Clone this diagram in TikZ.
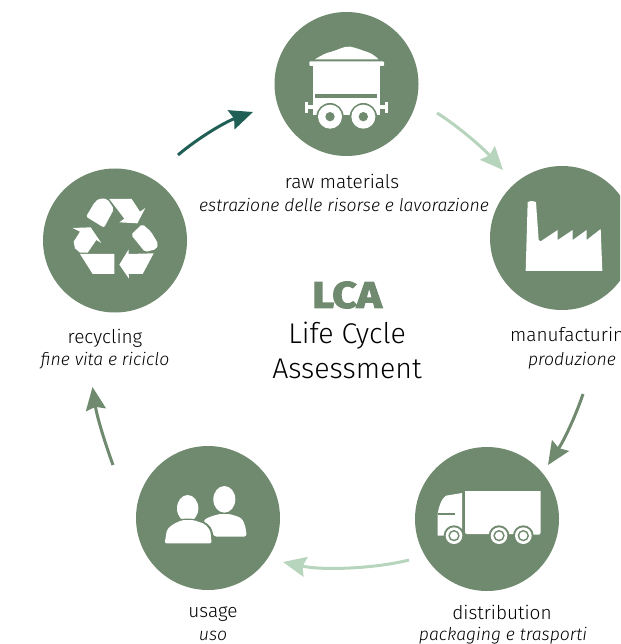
\documentclass[tikz,border=0pt]{standalone}
\usepackage{fontspec}
\setmainfont{Fira Sans Light}[ItalicFont={Fira Sans Light Italic}]
\newfontfamily\heavyfont{Fira Sans}[UprightFont={* Bold},FakeBold=3]
\usetikzlibrary{arrows.meta}
\definecolor{sage}{HTML}{6F8A6E}
\definecolor{paleg}{HTML}{B7D4BC}
\definecolor{darkteal}{HTML}{1F5F55}
\tikzset{
  stage/.style={circle,fill=sage,minimum size=144pt,inner sep=0pt},
  lab/.style={font=\fontsize{19}{19}\selectfont,inner sep=0pt,text=black},
  labit/.style={font=\fontsize{17.6}{18}\selectfont\itshape,inner sep=0pt,text=black},
  flow/.style={line width=3pt,-{Stealth[length=23pt,width=20pt,inset=3pt]}},
  ico/.style={fill=white,draw=none},
  px/.style={x=0.33333pt,y=-0.33333pt}
}
\begin{document}
\begin{tikzpicture}[x=1pt,y=-1pt]
\useasboundingbox (0,0) rectangle (620,644);
\clip (0,0) rectangle (620,644);
\node[stage] (raw) at (346.5,84) {};
\node[stage] (man) at (562,238) {};
\node[stage] (dis) at (487,519) {};
\node[stage] (usa) at (208,518) {};
\node[stage] (rec) at (115,240.5) {};
% arrows
\coordinate (a1s) at (178,155); \coordinate (a1e) at (253,112);
\coordinate (a2s) at (437,113); \coordinate (a2e) at (503,170);
\coordinate (a3s) at (583,394); \coordinate (a3e) at (548,465);
\coordinate (a4s) at (409,560); \coordinate (a4e) at (283,562);
\coordinate (a5s) at (113,465); \coordinate (a5e) at (92.5,387);
\draw[flow,darkteal] (a1s) .. controls (198,138) and (225,122) .. (a1e);
\draw[flow,paleg] (a2s) .. controls (455,124) and (481,146) .. (a2e);
\draw[flow,sage] (a3s) .. controls (577,412) and (566,437) .. (a3e);
\draw[flow,paleg] (a4s) .. controls (378,568) and (325,571) .. (a4e);
\draw[flow,sage] (a5s) .. controls (105,443) and (97,417) .. (a5e);
% wagon
\begin{scope}[shift={(260pt,0pt)},px]
\fill[ico] (165,178) .. controls (185,165) and (200,158) .. (215,155) .. controls (235,150) and (250,138) .. (270,140) .. controls (290,143) and (310,153) .. (325,157) .. controls (340,163) and (350,172) .. (355,178) -- cycle;
\fill[ico,rounded corners=1pt] (148,184) rectangle (372,198);
\fill[ico] (160,198) rectangle (360,345);
\fill[sage] (165,282) rectangle (350,295);
\fill[ico] (136,306) rectangle (144,338);
\fill[ico] (144,316) rectangle (170,328);
\fill[ico] (376,306) rectangle (384,338);
\fill[ico] (350,316) rectangle (376,328);
\fill[sage] (210,350) circle (41); \fill[sage] (310,350) circle (41);
\fill[ico] (210,350) circle (36); \fill[ico] (310,350) circle (36);
\fill[sage] (210,350) circle (14); \fill[sage] (310,350) circle (14);
\end{scope}
% recycling
\begin{scope}[shift={(30pt,-160pt)},px]
\fill[ico,rounded corners=2pt] (168,170) -- (195,125) -- (210,115) -- (232,117) -- (252,147) -- (222,203) -- cycle;
\fill[ico] (238,117) -- (305,117) -- (330,155) -- (346,144) -- (322,190) -- (268,187) -- (283,176) -- cycle;
\fill[ico] (128,204) -- (182,202) -- (214,249) -- (199,240) -- (173,278) -- (150,278) -- (135,265) -- (131,245) -- (150,215) -- cycle;
\fill[ico,rounded corners=2pt] (303,224) -- (337,192) -- (363,215) -- (385,252) -- (378,268) -- (345,276) -- cycle;
\fill[ico] (150,282) -- (253,282) -- (253,342) -- (188,342) -- cycle;
\fill[ico] (296,268) -- (296,282) -- (371,280) -- (338,342) -- (296,342) -- (297,356) -- (268,314) -- cycle;
\end{scope}
% factory
\begin{scope}[shift={(480pt,-160pt)},px]
\fill[ico] (137,333) -- (143,127) .. controls (148,122) and (162,122) .. (168,127) -- (176,240) -- (182,244) -- (233,210) -- (233,240) -- (278,210) -- (278,240) -- (320,210) -- (320,240) -- (362,207) -- (367,333) -- cycle;
\end{scope}
% truck
\begin{scope}[shift={(400pt,-440pt)},px]
\fill[ico] (195,153) -- (422,153) -- (422,278) .. controls (422,283) and (418,284) .. (414,284) -- (395,284) -- (395,282) -- (200,282) .. controls (196,282) and (195,278) .. (195,274) -- cycle;
\fill[ico] (113,287) -- (113,222) .. controls (116,200) and (125,175) .. (138,167) -- (186,159) -- (186,287) -- cycle;
\fill[sage] (114,220) rectangle (164,224);
\foreach \cx in {162,297,370}{
  \fill[sage] (\cx,287) circle (31);
  \fill[ico] (\cx,287) circle (25);
  \fill[sage] (\cx,287) circle (17);
  \fill[ico] (\cx,287) circle (12);
}
\end{scope}
% people
\begin{scope}[shift={(125pt,-440pt)},px]
\fill[ico] (298,178) ellipse (33 and 40);
\fill[ico,rounded corners=3pt] (233,243) -- (250,232) -- (282,222) -- (315,222) -- (350,234) -- (360,255) -- (366,290) -- (266,290) -- (258,260) -- cycle;
\fill[sage] (188,205) ellipse (37 and 43);
\fill[ico] (188,205) ellipse (32 and 40);
\fill[sage,rounded corners=3pt] (113,316) -- (120,265) -- (140,246) -- (170,236) -- (205,236) -- (245,248) -- (262,270) -- (268,316) -- cycle;
\fill[ico,rounded corners=2pt] (119,310) -- (126,268) -- (145,252) -- (172,240) -- (205,240) -- (240,252) -- (256,272) -- (260,310) -- cycle;
\end{scope}
% labels
\node[lab] (t1) at (342,181) {raw materials};
\node[labit] (t2) at (344,205) {estrazione delle risorse e lavorazione};
\node[lab,anchor=west] (t3) at (510,336) {manufacturing};
\node[labit] (t4) at (572,361) {produzione};
\node[lab] (t5) at (502,612) {distribution};
\node[labit] (t6) at (503,636) {packaging e trasporti};
\node[lab] (t7) at (213,614) {usage};
\node[labit] (t8) at (213,636) {uso};
\node[lab] (t9) at (105,338) {recycling};
\node[labit] (t10) at (105,361) {fine vita e riciclo};
\node[inner sep=0pt,text=sage,font=\fontsize{37}{37}\selectfont\heavyfont] (lca) at (347,295) {\scalebox{1.15}[1]{LCA}};
\node[lab,font=\fontsize{28.5}{28}\selectfont] (lc) at (347,336) {Life Cycle};
\node[lab,font=\fontsize{28.5}{28}\selectfont] (as) at (347,369) {Assessment};
\end{tikzpicture}
\end{document}
